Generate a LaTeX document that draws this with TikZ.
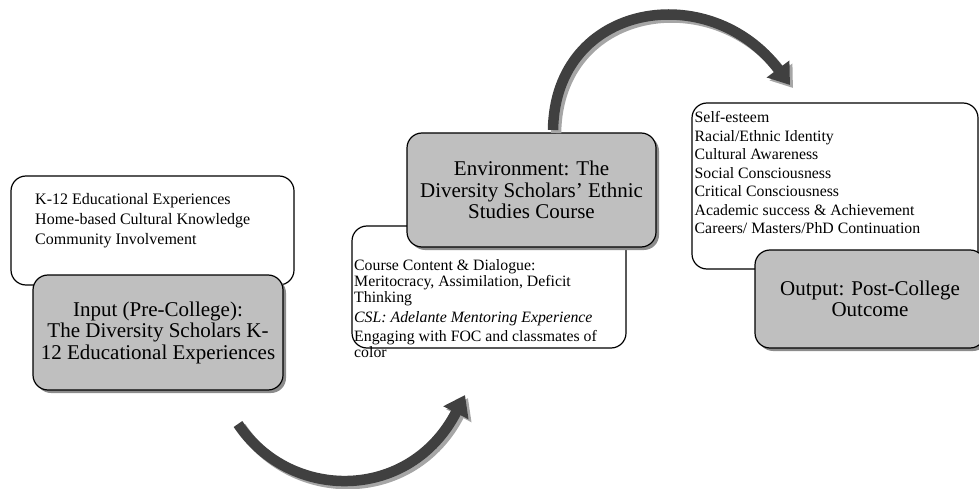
\documentclass[tikz,border=0pt]{standalone}
\usepackage{fontspec}
\setmainfont{Liberation Serif}
\usetikzlibrary{arrows.meta,shadows}

\tikzset{
  framebox/.style={draw, line width=1.2pt, rounded corners=15pt, fill=white, inner sep=0pt},
  stagebox/.style={framebox, fill=black!25, drop shadow={shadow xshift=3pt, shadow yshift=-3pt, fill=black!45, opacity=1}, align=center, font=\fontsize{21}{21.5}\selectfont},
  listtext/.style={anchor=north west, inner sep=0pt, align=left, font=\fontsize{16}{20}\selectfont},
  flowarrow/.style={line width=10.5pt, draw=black!75, -{Triangle[length=20pt,width=27pt]}},
  flowshadow/.style={flowarrow, draw=black!35, transform canvas={xshift=3pt,yshift=-3pt}}
}

\begin{document}
\begin{tikzpicture}[x=1pt,y=-1pt]
\useasboundingbox (0,0) rectangle (979,489);

\node[framebox, minimum width=283pt, minimum height=109pt] (prior) at (152.5,230.5) {};
\node[listtext] (priorlist) at (35,193) {K-12 Educational Experiences\\Home-based Cultural Knowledge\\Community Involvement};
\node[stagebox, minimum width=250pt, minimum height=115pt] (input) at (158,332.5) {Input (Pre-College):\\The Diversity Scholars K-\\12 Educational Experiences};

\node[framebox, minimum width=274pt, minimum height=122pt] (course) at (489,287) {};
\node[listtext, font=\fontsize{15.8}{16}\selectfont] (courselist) at (354,259.5) {Course Content \& Dialogue:\\Meritocracy, Assimilation, Deficit\\Thinking\\[4pt]\textit{CSL: Adelante Mentoring Experience}\\[3pt]Engaging with FOC and classmates of\\color};
\node[stagebox, minimum width=249pt, minimum height=114pt] (environment) at (531.5,190) {Environment: The\\Diversity Scholars’ Ethnic\\Studies Course};

\node[framebox, minimum width=286pt, minimum height=166pt] (after) at (835,186) {};
\node[listtext, font=\fontsize{15.8}{18.5}\selectfont] (afterlist) at (694.5,111.5) {Self-esteem\\Racial/Ethnic Identity\\Cultural Awareness\\Social Consciousness\\Critical Consciousness\\Academic success \& Achievement\\Careers/ Masters/PhD Continuation};
\node[stagebox, minimum width=230pt, minimum height=98pt] (output) at (870,299) {Output: Post-College\\Outcome};

\coordinate (lowstart) at (238,424);
\coordinate (lowend) at (465,395);
\coordinate (highstart) at (553,130);
\coordinate (highend) at (790,85);
\draw[flowshadow] (lowstart) .. controls (290,502) and (410,502) .. (lowend);
\draw[flowarrow] (lowstart) .. controls (290,502) and (410,502) .. (lowend);
\draw[flowshadow] (highstart) .. controls (555,2) and (710,-22) .. (highend);
\draw[flowarrow] (highstart) .. controls (555,2) and (710,-22) .. (highend);
\end{tikzpicture}
\end{document}
